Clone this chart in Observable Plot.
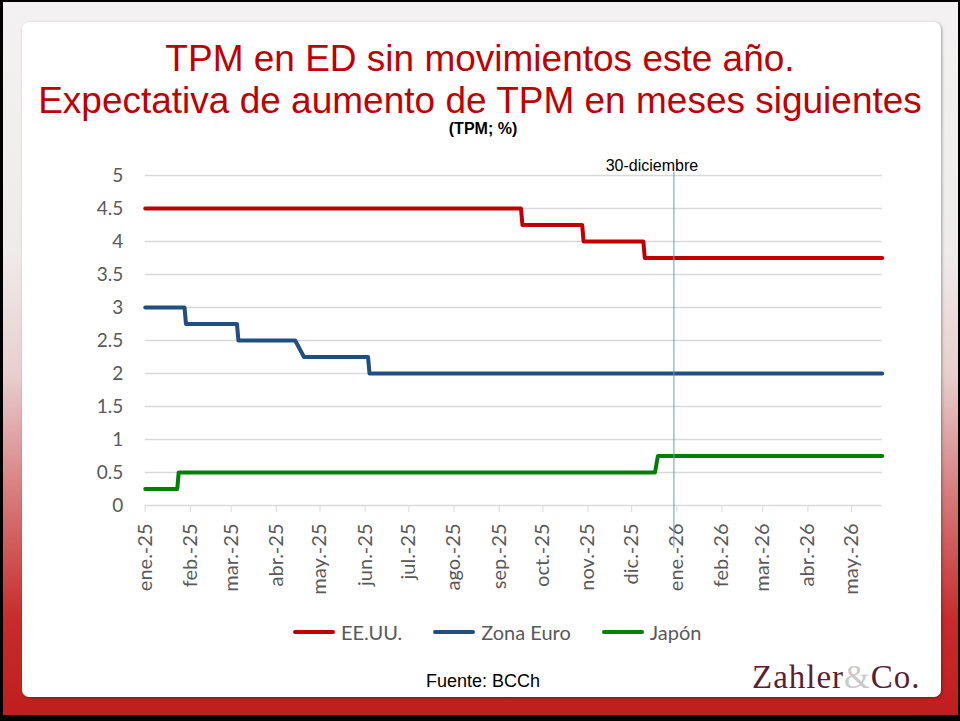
<!DOCTYPE html>
<html>
<head>
<meta charset="utf-8">
<script src="https://cdn.jsdelivr.net/npm/d3@7"></script>
<script src="https://cdn.jsdelivr.net/npm/@observablehq/plot@0.6"></script>
<style>
  body { margin: 0; background: #fff; }
  #page { position: relative; width: 960px; height: 721px; overflow: hidden;
    background: linear-gradient(to bottom, #f3f1f1 0%, #efebeb 35%, #e8cfcf 52%, #d67474 70%, #c72b2b 86%, #c01d1d 100%); }
  #frame { position: absolute; left: 0; top: 0; width: 960px; height: 721px; box-sizing: border-box;
    border-top: 2px solid #000; border-left: 3px solid #000; border-right: 2px solid #000; border-bottom: 6px solid #000; pointer-events: none; }
  #panel { position: absolute; left: 22px; top: 22px; width: 919px; height: 675px; background: #fff;
    border-radius: 7px; box-shadow: 1px 1px 3px rgba(0,0,0,0.35); }
  .title { position: absolute; left: 0; width: 960px; text-align: center; font-family: "Liberation Sans", Arial, sans-serif;
    color: #C00000; font-size: 37px; line-height: 38px; height: 38px; white-space: nowrap; }
  #sub { position: absolute; left: 0; width: 966px; text-align: center; top: 121px; font-family: "Liberation Sans", Arial, sans-serif;
    font-weight: bold; font-size: 16px; line-height: 16px; color: #000; }
  #chart { position: absolute; left: 0; top: 150px; }
  #legend { position: absolute; left: 293px; top: 619px; height: 26px; display: flex; align-items: center;
    font-family: Lato, sans-serif; font-size: 20px; color: #595959; white-space: nowrap; }
  .item { display: flex; align-items: center; margin-right: 31px; }
  .sw { width: 42px; height: 4px; border-radius: 2px; margin-right: 6px; }
  #fuente { position: absolute; left: 0; width: 966px; text-align: center; top: 670px; font-family: "Liberation Sans", Arial, sans-serif;
    font-size: 18px; line-height: 22px; color: #000; }
  #logo { position: absolute; left: 752px; top: 662px; font-family: "Liberation Serif", serif; font-size: 33px; line-height: 30px;
    color: #5b1f33; white-space: nowrap; letter-spacing: 1px; }
  #logo span { color: #c9c9c9; }
</style>
</head>
<body>
<div id="page">
  <div id="panel"></div>
  <div class="title" style="top:40px">TPM en ED sin movimientos este año.</div>
  <div class="title" style="top:82px">Expectativa de aumento de TPM en meses siguientes</div>
  <div id="sub">(TPM; %)</div>
  <div id="chart"></div>
  <div id="legend"></div>
  <div id="fuente">Fuente: BCCh</div>
  <div id="logo">Zahler<span>&amp;</span>Co.</div>
  <div id="frame"></div>
</div>
<script>
// ---- Data ----
const seriesNames = ["EE.UU.", "Zona Euro", "Japón"];
const seriesColors = ["#C00000", "#1F4E80", "#008000"];

const usDates = ["2025-01-01","2025-09-16","2025-09-17","2025-10-28","2025-10-29","2025-12-09","2025-12-10","2026-05-22"];
const usRates = [4.5, 4.5, 4.25, 4.25, 4.0, 4.0, 3.75, 3.75];

const euDates = ["2025-01-01","2025-01-28","2025-01-29","2025-03-05","2025-03-06","2025-04-14","2025-04-20","2025-06-03","2025-06-04","2026-05-22"];
const euRates = [3.0, 3.0, 2.75, 2.75, 2.5, 2.5, 2.25, 2.25, 2.0, 2.0];

const jpDates = ["2025-01-01","2025-01-23","2025-01-24","2025-12-17","2025-12-19","2026-05-22"];
const jpRates = [0.25, 0.25, 0.5, 0.5, 0.75, 0.75];

const monthTicks = ["2025-01-01","2025-02-01","2025-03-01","2025-04-01","2025-05-01","2025-06-01","2025-07-01","2025-08-01",
  "2025-09-01","2025-10-01","2025-11-01","2025-12-01","2026-01-01","2026-02-01","2026-03-01","2026-04-01","2026-05-01"];
const monthLabels = ["ene.-25","feb.-25","mar.-25","abr.-25","may.-25","jun.-25","jul.-25","ago.-25",
  "sep.-25","oct.-25","nov.-25","dic.-25","ene.-26","feb.-26","mar.-26","abr.-26","may.-26"];
const yTicks = [0, 0.5, 1, 1.5, 2, 2.5, 3, 3.5, 4, 4.5, 5];

const markerDate = "2025-12-30";
const markerLabel = "30-diciembre";
const xStart = "2025-01-01", xEnd = "2026-05-22";

// ---- Build table ----
const parse = s => new Date(s + "T00:00:00Z");
const rows = [];
[[usDates, usRates], [euDates, euRates], [jpDates, jpRates]].forEach(([ds, rs], k) => {
  ds.forEach((d, i) => rows.push({serie: seriesNames[k], date: parse(d), rate: rs[i]}));
});
const tickDates = monthTicks.map(parse);

const chart = Plot.plot({
  width: 960,
  height: 470,
  marginLeft: 144.7,
  marginRight: 78.3,
  marginTop: 25,
  marginBottom: 115,
  style: {fontFamily: "Lato, sans-serif", background: "transparent", overflow: "visible"},
  x: {type: "utc", domain: [parse(xStart), parse(xEnd)]},
  y: {domain: [0, 5]},
  color: {domain: seriesNames, range: seriesColors},
  marks: [
    Plot.ruleY(yTicks, {stroke: "#d9d9d9", strokeWidth: 1.3}),
    Plot.axisY({ticks: yTicks, tickSize: 0, tickPadding: 22, fontSize: 19, fill: "#595959", label: null,
      tickFormat: d => String(d)}),
    Plot.axisX({ticks: tickDates, tickSize: 7, stroke: "#d9d9d9", tickPadding: 11, tickRotate: -90,
      fontSize: 20, fill: "#595959", label: null,
      tickFormat: d => monthLabels[tickDates.findIndex(t => +t === +d)]}),
    Plot.line(rows, {x: "date", y: "rate", z: "serie", stroke: "serie", strokeWidth: 4}),
    Plot.ruleX([parse(markerDate)], {x: d => d, y1: -0.65, y2: 5.05, stroke: "#5B9BD5", strokeWidth: 1}),
    Plot.text([markerLabel], {x: () => parse(markerDate), y: 5.05, text: d => d, dx: -22, dy: -6,
      fontSize: 16, fill: "#000", fontFamily: "Liberation Sans, Arial, sans-serif"})
  ]
});
document.getElementById("chart").appendChild(chart);

// ---- Legend ----
const legend = document.getElementById("legend");
seriesNames.forEach((n, i) => {
  const it = document.createElement("div");
  it.className = "item";
  const sw = document.createElement("div");
  sw.className = "sw";
  sw.style.background = seriesColors[i];
  const tx = document.createElement("span");
  tx.textContent = n;
  it.appendChild(sw); it.appendChild(tx);
  legend.appendChild(it);
});
</script>
</body>
</html>
